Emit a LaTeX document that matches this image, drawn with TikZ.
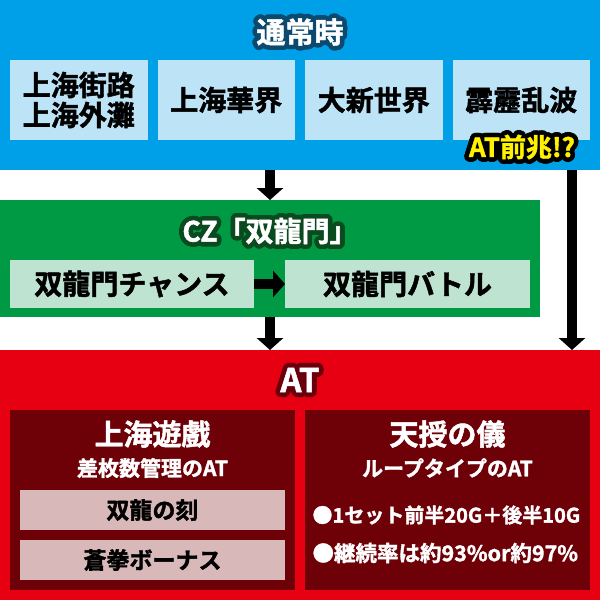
\documentclass[tikz,border=0pt]{standalone}
\usepackage{fontspec}
\setmainfont{Noto Sans CJK JP}[BoldFont={Noto Sans CJK JP Bold}, BoldFeatures={FakeBold=1.6}]
\usetikzlibrary{arrows.meta,calc}

\definecolor{tsublue}{HTML}{00A0E9}
\definecolor{tsulight}{HTML}{BDE3F7}
\definecolor{tsuline}{HTML}{0B4A6E}
\definecolor{czgreen}{HTML}{009A44}
\definecolor{czlight}{HTML}{BEE3D0}
\definecolor{czline}{HTML}{0A4A1E}
\definecolor{atred}{HTML}{E60012}
\definecolor{atdark}{HTML}{6E0008}
\definecolor{atpink}{HTML}{D9B8BA}
\definecolor{atline}{HTML}{6A000C}
\definecolor{zenyellow}{HTML}{FFF100}

% text with a thick rim: style, place, name, fill, rim, text
\newcommand\edged[6]{%
  \foreach \a in {0,20,...,340}
    \node[#1, text=#5] at ($(#2)+(\a:4.6)$) {#6};
  \foreach \a in {0,45,...,315}
    \node[#1, text=#5] at ($(#2)+(\a:2.4)$) {#6};
  \node[#1, text=#4] (#3) at (#2) {#6};}

\begin{document}
\begin{tikzpicture}[x=1pt, y=-1pt,
    band/.style={inner sep=0pt, outer sep=0pt, anchor=north west},
    box/.style={inner sep=0pt, outer sep=0pt, align=center},
    big/.style={font=\bfseries\fontsize{29pt}{30pt}\selectfont},
    lbl/.style={font=\bfseries\fontsize{28pt}{30pt}\selectfont},
    sub/.style={font=\bfseries\fontsize{21pt}{22pt}\selectfont, text=white},
    pk/.style={font=\bfseries\fontsize{23pt}{24pt}\selectfont},
    arr/.style={line width=10pt, -{Triangle[width=26pt,length=12pt]}}]
    \useasboundingbox (0,0) rectangle (600,600);

    \node[band, fill=tsublue, minimum width=600pt, minimum height=170pt] (tsujo) at (0,0) {};
    \node[band, fill=czgreen, minimum width=540pt, minimum height=117pt] (czband) at (0,200) {};
    \node[band, fill=atred, minimum width=600pt, minimum height=250pt] (atband) at (0,350) {};

    \node[box, lbl, fill=tsulight, minimum width=137.5pt, minimum height=80pt] (gairo) at (78.75,100) {上海街路\\上海外灘};
    \node[box, lbl, fill=tsulight, minimum width=137.5pt, minimum height=80pt] (kakai) at (226.25,100) {上海華界};
    \node[box, lbl, fill=tsulight, minimum width=137.5pt, minimum height=80pt] (shinsekai) at (373.75,100) {大新世界};
    \node[box, lbl, fill=tsulight, minimum width=137.5pt, minimum height=80pt] (hekireki) at (521.25,100) {霹靂乱波};

    \edged{big}{300,32}{tsujotitle}{white}{tsuline}{通常時}
    \edged{font=\bfseries\fontsize{26pt}{27pt}\selectfont}{522,147}{zencho}{zenyellow}{black}{AT前兆!?}

    \edged{lbl}{270,231}{cztitle}{white}{czline}{CZ「双龍門」}
    \node[box, lbl, fill=czlight, minimum width=244pt, minimum height=48pt] (chance) at (132,284) {双龍門チャンス};
    \node[box, lbl, fill=czlight, minimum width=245pt, minimum height=48pt] (battle) at (407.5,284) {双龍門バトル};

    \edged{font=\bfseries\fontsize{33pt}{34pt}\selectfont}{300,380}{attitle}{white}{atline}{AT}
    \node[box, fill=atdark, minimum width=285pt, minimum height=180pt] (yugi) at (152.5,500) {};
    \node[box, fill=atdark, minimum width=285pt, minimum height=180pt] (tenju) at (447.5,500) {};

    \node[big, text=white] (yugititle) at (152.5,434) {上海遊戲};
    \node[sub] (yugisub) at (152.5,468) {差枚数管理のAT};
    \node[box, pk, fill=atpink, minimum width=265pt, minimum height=40pt] (toki) at (152.5,510) {双龍の刻};
    \node[box, pk, fill=atpink, minimum width=265pt, minimum height=40pt] (soken) at (152.5,560) {蒼拳ボーナス};

    \node[big, text=white] (tenjutitle) at (447.5,434) {天授の儀};
    \node[sub] (tenjusub) at (447.5,468) {ループタイプのAT};
    \node[sub, font=\bfseries\fontsize{20pt}{21pt}\selectfont, anchor=west] (set) at (309,515) {●1セット前半20G＋後半10G};
    \node[sub, font=\bfseries\fontsize{21.5pt}{22pt}\selectfont, anchor=west] (loop) at (309,553) {●継続率は約93\%or約97\%};

    \coordinate (side) at (572,170);
    \draw[arr] (tsujo.south -| czband.north) -- (czband.north);
    \draw[arr] (czband.south) -- (czband.south |- atband.north);
    \draw[arr] (side) -- (side |- atband.north);
    \draw[arr] (chance.east) -- (battle.west);
\end{tikzpicture}
\end{document}
